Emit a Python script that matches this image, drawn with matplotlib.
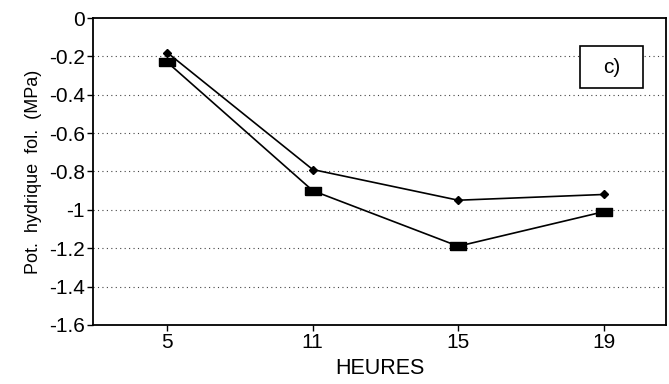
import numpy as np
import matplotlib.pyplot as plt
from matplotlib.patches import Rectangle

plt.rcParams['font.family'] = ['Liberation Sans', 'DejaVu Sans']

heures = ['5', '11', '15', '19']
serie_haut = [-0.18, -0.79, -0.95, -0.92]
serie_bas = [-0.23, -0.90, -1.19, -1.01]
yticks = [0, -0.2, -0.4, -0.6, -0.8, -1, -1.2, -1.4, -1.6]
ytick_labels = ['0', '-0.2', '-0.4', '-0.6', '-0.8', '-1', '-1.2', '-1.4', '-1.6']

x = np.arange(len(heures))

fig = plt.figure(figsize=(6.69, 3.84), dpi=100)
ax = fig.add_axes([0.139, 0.154, 0.857, 0.799])

for yv in yticks[1:-1]:
    ax.axhline(yv, color='#444444', linewidth=0.8, linestyle=(0, (1, 3)), zorder=1)

# rectangle marker for the lower series
rect = [(-2.0, -1), (2.0, -1), (2.0, 1), (-2.0, 1), (-2.0, -1)]

ax.plot(x, serie_haut, '-', color='black', linewidth=1.2,
        marker='D', markersize=4, zorder=3)
ax.plot(x, serie_bas, '-', color='black', linewidth=1.2,
        marker=rect, markersize=11, zorder=3)

ax.set_xlim(-0.51, 3.43)
ax.set_ylim(-1.6, 0)
ax.set_xticks(x)
ax.set_xticklabels(heures, fontsize=15)
ax.set_yticks(yticks)
ax.set_yticklabels(ytick_labels, fontsize=15)
ax.tick_params(direction='out', length=4, width=1, pad=2)

for s in ax.spines.values():
    s.set_linewidth(1.3)

ax.set_xlabel("HEURES", fontsize=15.5, labelpad=4)
ax.set_ylabel("Pot.  hydrique  fol.  (MPa)", fontsize=13, labelpad=5)

ax.add_patch(Rectangle((0.850, 0.772), 0.110, 0.137, transform=ax.transAxes,
                       fill=True, facecolor='white', edgecolor='black',
                       linewidth=1.2, zorder=4))
ax.text(0.905, 0.84, "c)", transform=ax.transAxes, fontsize=15,
        ha='center', va='center', zorder=5)

fig.savefig("out.png")
